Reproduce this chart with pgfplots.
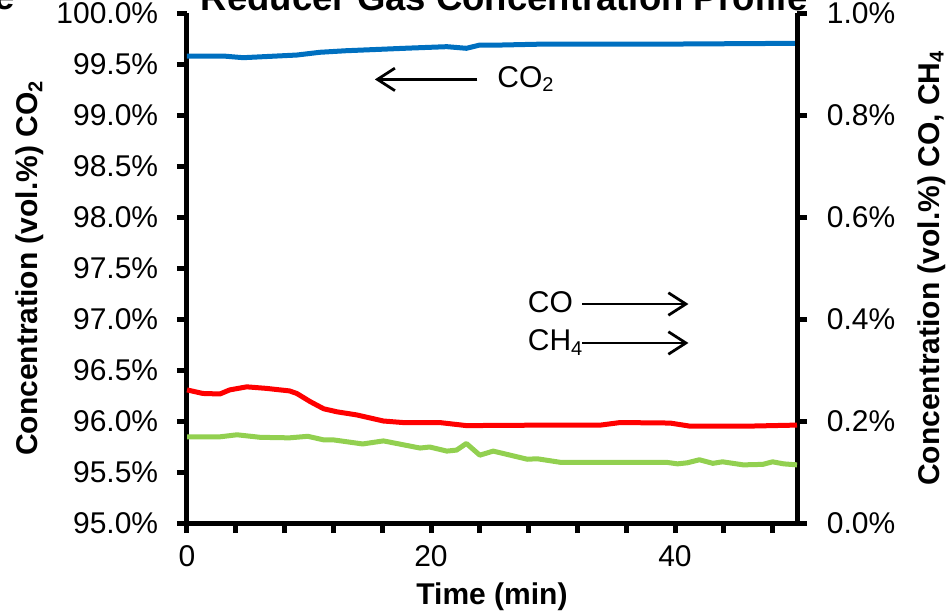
\documentclass[border=0pt]{standalone}
\usepackage{pgfplots}
\pgfplotsset{compat=1.18}
\usepackage{fontspec}
\setmainfont{Liberation Sans}
\usetikzlibrary{arrows.meta}
\definecolor{cblue}{RGB}{0,112,192}
\definecolor{cred}{RGB}{255,0,0}
\definecolor{cgreen}{RGB}{146,208,80}

\pgfplotstableread{
t v
0 99.578
3 99.578
4.6 99.562
9 99.588
10.9 99.615
13 99.630
15.8 99.644
18 99.655
21.3 99.670
22.9 99.654
24 99.686
25.7 99.686
29.5 99.696
40.4 99.696
50 99.703
}\coiitable

\pgfplotstableread{
t v
0 0.261
1.3 0.254
2.7 0.253
3.5 0.261
4.9 0.267
6.5 0.264
8.4 0.259
9.0 0.254
10.1 0.238
11.2 0.224
12.3 0.218
13.9 0.212
16.1 0.200
17.7 0.197
20.7 0.197
22.9 0.191
29.8 0.192
33.9 0.192
35.5 0.197
39.6 0.196
41.2 0.190
46.1 0.190
50 0.192
}\cotable

\pgfplotstableread{
t v
0 0.169
2.7 0.169
4.1 0.173
6 0.168
8.4 0.167
9.9 0.170
11.2 0.163
12 0.163
14.4 0.155
16.1 0.161
19.1 0.147
19.9 0.149
21.3 0.141
22.1 0.143
22.9 0.156
24 0.133
25.1 0.141
27.9 0.125
28.7 0.126
30.6 0.119
39.3 0.119
40.2 0.116
41 0.118
42 0.124
43.1 0.117
43.9 0.120
45.6 0.114
47.2 0.115
48 0.120
48.9 0.116
50 0.114
}\chtable

\begin{document}
\begin{tikzpicture}
\pgfplotsset{
  common/.style={
    at={(0,0)}, anchor=south west,
    scale only axis, width=244pt, height=204pt,
    xmin=0, xmax=50,
    /pgf/number format/assume math mode=true,
    axis line style={line width=2pt, black, -},
    ticklabel style={font=\fontsize{12}{14}\selectfont},
    label style={font=\bfseries\fontsize{12}{14}\selectfont},
    clip=false,
  }
}
\begin{axis}[common,
  axis x line*=bottom, axis y line*=left,
  tick align=outside,
  major tick length=4pt, minor tick length=4pt,
  every tick/.style={black, line width=2pt},
  ymin=95, ymax=100,
  ytick={95,95.5,...,100},
  yticklabel={\pgfmathprintnumber[fixed,fixed zerofill,precision=1]{\tick}\%},
  yticklabel style={xshift=-4pt},
  xtick={0,20,40},
  minor xtick={4,8,12,16,24,28,32,36,44,48},
  xticklabel style={yshift=-1.6pt},
  xlabel={Time (min)},
  xlabel style={at={(axis description cs:0.5,0)}, yshift=-32.4pt, anchor=base},
  ylabel={Concentration (vol.\%) CO\textsubscript{2}},
  ylabel style={at={([xshift=-59.6pt]axis description cs:0,0.5)}, anchor=base},
  title={Reducer Gas Concentration Profile},
  title style={at={(axis description cs:0.52,1.004)}, anchor=base, yshift=-6pt, font=\bfseries\fontsize{14.6}{16}\selectfont},
]
\addplot[cblue, line width=2pt, line join=round] table[x=t,y=v] {\coiitable};
\draw[line width=1.1pt, -{Straight Barb[length=7pt,width=9pt,line width=1.1pt]}] (axis cs:23.8,99.349) -- (axis cs:15.4,99.349);
\node[anchor=base west, inner sep=0, font=\fontsize{12}{14}\selectfont] at (axis cs:25.4,99.272) {CO\textsubscript{2}};
\draw[line width=1.1pt, -{Straight Barb[length=7pt,width=9pt,line width=1.1pt]}] (axis cs:32.4,97.147) -- (axis cs:41.1,97.147);
\node[anchor=base west, inner sep=0, font=\fontsize{12}{14}\selectfont] at (axis cs:27.9,97.062) {CO};
\draw[line width=1.1pt, -{Straight Barb[length=7pt,width=9pt,line width=1.1pt]}] (axis cs:32.4,96.765) -- (axis cs:41.1,96.765);
\node[anchor=base west, inner sep=0, font=\fontsize{12}{14}\selectfont] at (axis cs:27.9,96.69) {CH\textsubscript{4}};
\node[anchor=base east, inner sep=0, font=\bfseries\fontsize{14.6}{16}\selectfont] at (axis description cs:-0.282,1.006) {e};
\end{axis}
\begin{axis}[common,
  axis x line=none, axis y line*=right,
  tick align=outside,
  major tick length=4pt,
  every tick/.style={black, line width=2pt},
  ymin=0, ymax=1,
  ytick={0,0.2,0.4,0.6,0.8,1.0},
  yticklabel={\pgfmathprintnumber[fixed,fixed zerofill,precision=1]{\tick}\%},
  yticklabel style={xshift=4.4pt},
  ylabel={Concentration (vol.\%) CO, CH\textsubscript{4}},
  ylabel style={at={([xshift=56.8pt]axis description cs:1,0.5)}, anchor=base, rotate=0},
]
\addplot[cred, line width=2pt, line join=round] table[x=t,y=v] {\cotable};
\addplot[cgreen, line width=2pt, line join=round] table[x=t,y=v] {\chtable};
\end{axis}
\pgfresetboundingbox
\path[use as bounding box] (-74.8pt,-34.8pt) rectangle (304pt,209.2pt);
\end{tikzpicture}
\end{document}
